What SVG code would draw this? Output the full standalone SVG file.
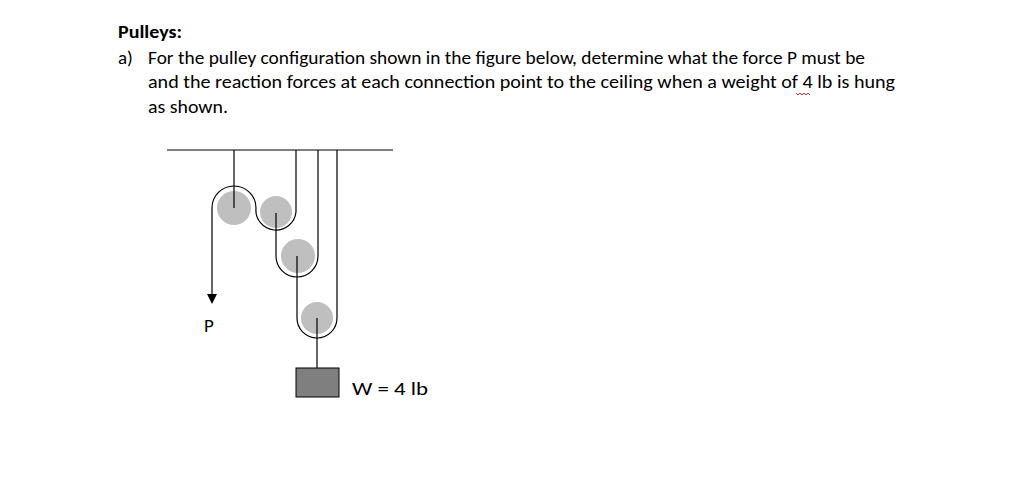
<svg xmlns="http://www.w3.org/2000/svg" width="1016" height="483" viewBox="0 0 1016 483">
<style>
text{font-family:"Carlito","Open Sans","Liberation Sans",sans-serif;font-size:19px;fill:#000}
.r{fill:none;stroke:#000;stroke-width:1.2}
.p{fill:#bfbfbf}
</style>
<rect width="1016" height="483" fill="#fff"/>
<text x="118" y="38" font-weight="bold" textLength="64" lengthAdjust="spacingAndGlyphs">Pulleys:</text>
<text x="118" y="64">a)</text>
<text x="148" y="64" textLength="717" lengthAdjust="spacingAndGlyphs">For the pulley configuration shown in the figure below, determine what the force P must be</text>
<text x="148" y="88" textLength="747" lengthAdjust="spacingAndGlyphs">and the reaction forces at each connection point to the ceiling when a weight of 4 lb is hung</text>
<text x="148" y="113" textLength="80" lengthAdjust="spacingAndGlyphs">as shown.</text>
<path d="M796 93 l2 2 l2 -2 l2 2 l2 -2 l2 2 l2 -2 l2 2" fill="none" stroke="#c00" stroke-width="0.8"/>
<g id="ceiling"><line class="r" x1="167" y1="150" x2="393" y2="150"/></g>
<g id="pulley1"><circle class="p" cx="234" cy="208" r="17"/></g>
<g id="pulley2"><circle class="p" cx="276" cy="212" r="16"/></g>
<g id="pulley3"><circle class="p" cx="298" cy="256" r="17"/></g>
<g id="pulley4"><circle class="p" cx="317" cy="318" r="16"/></g>
<g id="weight"><rect x="296" y="368" width="43" height="29" fill="#7f7f7f" stroke="#000"/><text x="352" y="395" font-size="21" textLength="76" lengthAdjust="spacingAndGlyphs">W = 4 lb</text></g>
<g id="P"><text x="204" y="332" font-size="21">P</text></g>
<g id="connectors">
<line class="r" x1="234" y1="150" x2="234" y2="208"/>
<path class="r" d="M212 296 V208 A22 22 0 0 1 256 208 A20 20 0 0 0 296 212 V150"/>
<polygon points="207,294 217,294 212,304" fill="#000"/>
<path class="r" d="M276 213 V256 A21 21 0 0 0 318 256 V150"/>
<path class="r" d="M297 256 V318 A20 20 0 0 0 337 318 V150"/>
<line class="r" x1="317" y1="318" x2="317" y2="368"/>
</g>
</svg>
